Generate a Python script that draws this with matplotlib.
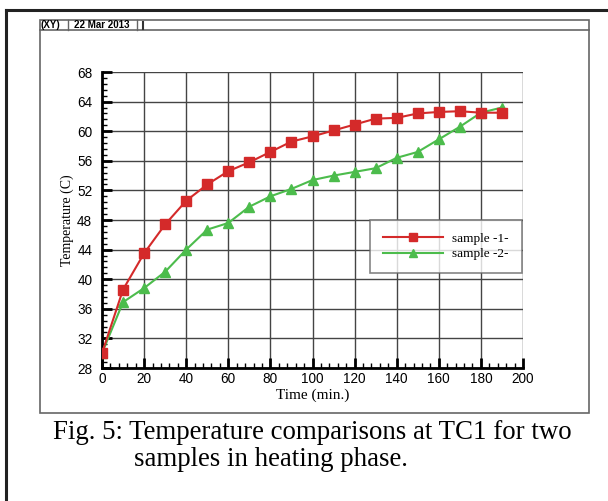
import numpy as np
import matplotlib
matplotlib.use("Agg")
import matplotlib.pyplot as plt
from matplotlib.ticker import MultipleLocator
from matplotlib.lines import Line2D
from matplotlib.patches import Rectangle

# datos
tiempo = [0, 10, 20, 30, 40, 50, 60, 70, 80, 90, 100,
          110, 120, 130, 140, 150, 160, 170, 180, 190]
muestra1 = [30.0, 38.6, 43.5, 47.4, 50.6, 52.8, 54.6, 55.8, 57.2, 58.6, 59.3,
            60.1, 60.9, 61.7, 61.8, 62.4, 62.6, 62.7, 62.5, 62.5]
muestra2 = [30.0, 36.9, 38.8, 41.0, 44.0, 46.7, 47.6, 49.8, 51.2, 52.2, 53.4,
            54.0, 54.5, 55.0, 56.4, 57.2, 58.9, 60.6, 62.5, 63.2]
etiquetas = ["sample -1-", "sample -2-"]

W, H = 608, 501
fig = plt.figure(figsize=(W / 100, H / 100), dpi=100)

def fx(px):
    return px / W

def fy(py):
    return 1 - py / H

# marco exterior (solo izquierda y arriba visibles)
fig.add_artist(Line2D([fx(6), fx(6)], [fy(10), 0], color="#222222", lw=2.2))
fig.add_artist(Line2D([fx(6), 1], [fy(10), fy(10)], color="#222222", lw=2.2))

# marco interior con cabecera
fig.add_artist(Rectangle((fx(40), fy(413)), fx(589) - fx(40), fy(20) - fy(413),
                         fill=False, ec="#666666", lw=1.2))
fig.add_artist(Line2D([fx(40), fx(589)], [fy(30), fy(30)], color="#666666", lw=1.2))
fig.add_artist(Line2D([fx(68), fx(68)], [fy(20), fy(30)], color="#666666", lw=1))
fig.add_artist(Line2D([fx(137), fx(137)], [fy(20), fy(30)], color="#666666", lw=1))
fig.text(fx(40.5), fy(25.5), "(XY)", fontsize=7, fontweight="bold",
         family="Liberation Sans", va="center", ha="left")
fig.text(fx(74), fy(25.5), "22 Mar 2013", fontsize=7, fontweight="bold",
         family="Liberation Sans", va="center", ha="left")
fig.add_artist(Line2D([fx(143), fx(143)], [fy(22), fy(29)], color="#333333", lw=1.5))

ax = fig.add_axes([fx(102), fy(368), fx(523) - fx(102), fy(72) - fy(368)])
ax.plot(tiempo, muestra1, color="#d42a2a", lw=1.5, marker="s", ms=7,
        label=etiquetas[0], zorder=4)
ax.plot(tiempo, muestra2, color="#4cbc4c", lw=1.5, marker="^", ms=7,
        label=etiquetas[1], zorder=3)

ax.set_xlim(0, 200)
ax.set_ylim(28, 68)
ax.xaxis.set_major_locator(MultipleLocator(20))
ax.xaxis.set_minor_locator(MultipleLocator(4))
ax.yaxis.set_major_locator(MultipleLocator(4))
ax.yaxis.set_minor_locator(MultipleLocator(0.8))
ax.grid(True, which="major", color="#444444", lw=1)
ax.set_axisbelow(True)

for lado in ["top", "right"]:
    ax.spines[lado].set_visible(False)
for lado in ["left", "bottom"]:
    ax.spines[lado].set_linewidth(2)
    ax.spines[lado].set_color("black")

ax.tick_params(which="major", direction="in", length=7, width=2, labelsize=9.8)
ax.tick_params(which="minor", direction="in", length=3.6, width=1)
ax.tick_params(axis="x", which="major", pad=3)
ax.tick_params(axis="y", which="major", pad=7)
for lbl in ax.get_xticklabels() + ax.get_yticklabels():
    lbl.set_family("Liberation Sans")

ax.set_xlabel("Time (min.)", family="Liberation Serif", fontsize=11, labelpad=2)
ax.set_ylabel("Temperature (C)", family="Liberation Serif", fontsize=10, labelpad=2)

leg = ax.legend(loc="upper left", bbox_to_anchor=((370 - 102) / 421, (368 - 220) / 296),
                prop={"family": "Liberation Serif", "size": 9.5},
                frameon=True, fancybox=False, edgecolor="#666666",
                handlelength=4.6, handletextpad=0.7, borderpad=0.95,
                labelspacing=0.25, markerscale=0.85, borderaxespad=0)
leg.get_frame().set_linewidth(1.2)

# pie de figura
fig.text(fx(53), fy(439), "Fig. 5: Temperature comparisons at TC1 for two",
         fontsize=19.4, family="Liberation Serif", ha="left", va="baseline")
fig.text(fx(134), fy(466), "samples in heating phase.",
         fontsize=19.4, family="Liberation Serif", ha="left", va="baseline")

fig.savefig("out.png", dpi=100)
